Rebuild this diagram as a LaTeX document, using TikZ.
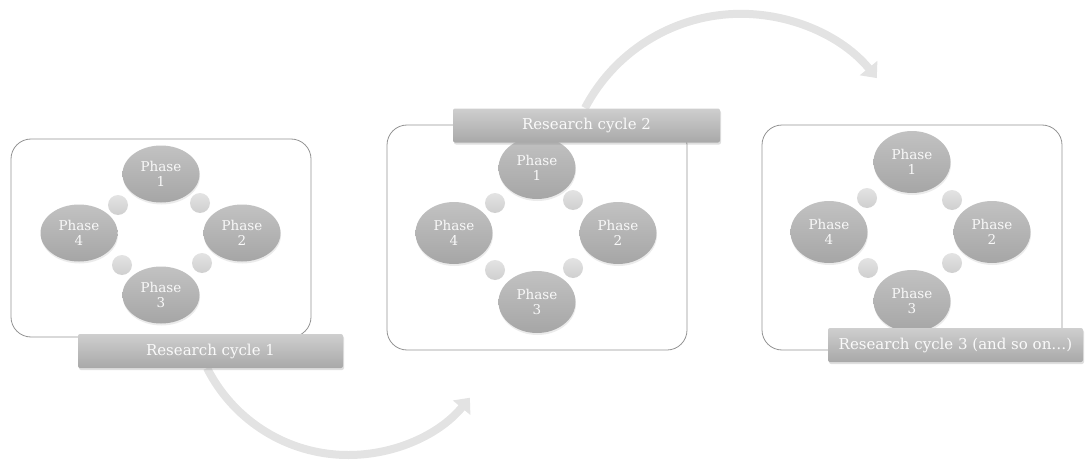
\documentclass[tikz,border=0pt]{standalone}
\usepackage{fontspec}
\setmainfont{DejaVu Serif}
\usetikzlibrary{shadows,arrows.meta,shapes.geometric}
\begin{document}
\begin{tikzpicture}[x=1pt,y=-1pt,
  panel/.style={draw=gray!85, line width=0.8pt, rounded corners=20pt},
  phase/.style={ellipse, minimum width=77pt, minimum height=#1, inner sep=0pt,
    top color=gray!48, bottom color=gray!70, draw=none, text=white!95!gray,
    align=center, font=\fontsize{13.5}{15}\selectfont,
    drop shadow={opacity=0.16, shadow xshift=0.5pt, shadow yshift=-2pt}},
  phase/.default=62pt,
  blob/.style={circle, minimum size=20pt, inner sep=0pt, draw=none,
    top color=gray!22, bottom color=gray!38},
  bar/.style={rectangle, rounded corners=2pt, minimum width=#1, minimum height=34pt,
    inner sep=0pt, top color=gray!38, bottom color=gray!68, draw=none,
    text=white!96!gray, font=\fontsize{15}{17}\selectfont,
    drop shadow={opacity=0.25, shadow xshift=1pt, shadow yshift=-2pt}},
  bigarrow/.style={line width=8pt, draw=gray!22, -{Triangle[width=22pt,length=13pt]}}
]
\path[use as bounding box] (0,0) rectangle (1085,460);

% ---------- big curved arrows (behind) ----------
\coordinate (a1s) at (207,368);
\coordinate (a2s) at (585,108);
\draw[bigarrow] (a1s) arc[start angle=153.3, end angle=39.6, radius=158] coordinate (a1e);
\draw[bigarrow] (a2s) arc[start angle=-152.3, end angle=-39.4, radius=176] coordinate (a2e);

% ---------- panel 1 ----------
\draw[panel] (11,139) rectangle (311,337);
\node[phase=57pt] (p11) at (161,174) {Phase\\1};
\node[phase=57pt] (p12) at (242,233) {Phase\\2};
\node[phase=57pt] (p13) at (161,295) {Phase\\3};
\node[phase=57pt] (p14) at (79,233) {Phase\\4};
\node[blob] (b11) at (200,203) {};
\node[blob] (b12) at (202,263) {};
\node[blob] (b13) at (122,265) {};
\node[blob] (b14) at (118,205) {};
\node[bar=265pt] (bar1) at (210.5,351) {Research cycle 1};

% ---------- panel 2 ----------
\draw[panel] (387,125) rectangle (687,350);
\node[phase] (p21) at (537,168) {Phase\\1};
\node[phase] (p22) at (618,233) {Phase\\2};
\node[phase] (p23) at (537,302) {Phase\\3};
\node[phase] (p24) at (454,233) {Phase\\4};
\node[blob] (b21) at (573,200) {};
\node[blob] (b22) at (573,268) {};
\node[blob] (b23) at (495,270) {};
\node[blob] (b24) at (495,203) {};
\node[bar=267pt] (bar2) at (586.5,125.5) {Research cycle 2};

% ---------- panel 3 ----------
\draw[panel] (762,125) rectangle (1062,350);
\node[phase] (p31) at (912,162) {Phase\\1};
\node[phase] (p32) at (992,232) {Phase\\2};
\node[phase] (p33) at (912,301) {Phase\\3};
\node[phase] (p34) at (829,232) {Phase\\4};
\node[blob] (b31) at (952,200) {};
\node[blob] (b32) at (952,263) {};
\node[blob] (b33) at (868,268) {};
\node[blob] (b34) at (867,198) {};
\node[bar=255pt] (bar3) at (955.5,345) {Research cycle 3 (and so on…)};
\end{tikzpicture}
\end{document}
